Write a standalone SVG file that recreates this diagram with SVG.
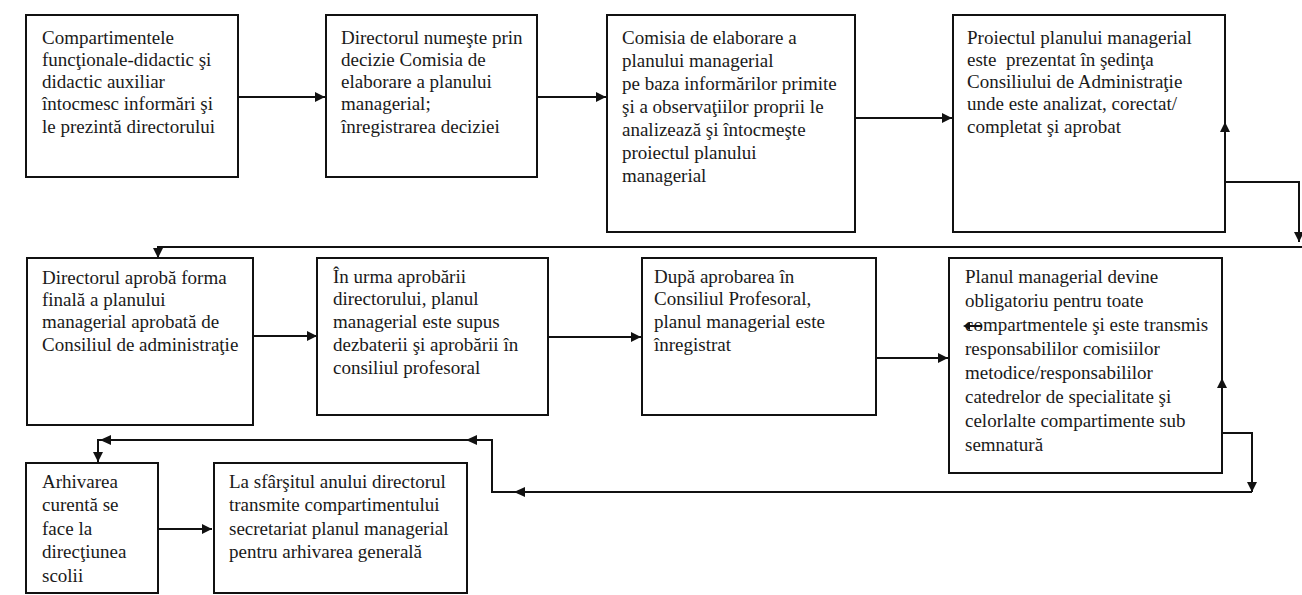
<svg xmlns="http://www.w3.org/2000/svg" width="1302" height="595" viewBox="0 0 1302 595">
<style>
.box{fill:#fff;stroke:#111;stroke-width:2}
.t{font-family:"Liberation Serif","Times New Roman",serif;font-size:19px;fill:#1a1a1a}
.c{fill:none;stroke:#111;stroke-width:2}
.ah{fill:#111}
</style>
<defs>
<marker id="arr" viewBox="0 0 10 10" refX="10" refY="5" markerWidth="11" markerHeight="10" markerUnits="userSpaceOnUse" orient="auto">
<path d="M0,0 L10,5 L0,10 z" fill="#111"/>
</marker>
</defs>
<rect width="1302" height="595" fill="#fff"/>

<g id="n1">
<rect class="box" x="26" y="15" width="212" height="162"/>
<text class="t"><tspan x="42" y="44">Compartimentele</tspan><tspan x="42" y="66">funcţionale-didactic şi</tspan><tspan x="42" y="88">didactic auxiliar</tspan><tspan x="42" y="110">întocmesc informări şi</tspan><tspan x="42" y="133">le prezintă directorului</tspan></text>
</g>
<g id="n2">
<rect class="box" x="326" y="15" width="211" height="162"/>
<text class="t"><tspan x="341" y="44">Directorul numeşte prin</tspan><tspan x="341" y="66">decizie Comisia de</tspan><tspan x="341" y="88">elaborare a planului</tspan><tspan x="341" y="110">managerial;</tspan><tspan x="341" y="133">înregistrarea deciziei</tspan></text>
</g>
<g id="n3">
<rect class="box" x="607" y="15" width="248" height="217"/>
<text class="t"><tspan x="622" y="44">Comisia de elaborare a</tspan><tspan x="622" y="67">planului managerial</tspan><tspan x="622" y="90">pe baza informărilor primite</tspan><tspan x="622" y="113">şi a observaţiilor proprii le</tspan><tspan x="622" y="136">analizează şi întocmeşte</tspan><tspan x="622" y="159">proiectul planului</tspan><tspan x="622" y="182">managerial</tspan></text>
</g>
<g id="n4">
<rect class="box" x="953" y="15" width="272" height="217"/>
<text class="t" xml:space="preserve"><tspan x="967" y="44">Proiectul planului managerial</tspan><tspan x="967" y="66">este  prezentat în şedinţa</tspan><tspan x="967" y="88">Consiliului de Administraţie</tspan><tspan x="967" y="110">unde este analizat, corectat/</tspan><tspan x="967" y="133">completat şi aprobat</tspan></text>
</g>
<g id="n5">
<rect class="box" x="27" y="258" width="226" height="167"/>
<text class="t"><tspan x="42" y="284">Directorul aprobă forma</tspan><tspan x="42" y="306">finală a planului</tspan><tspan x="42" y="328">managerial aprobată de</tspan><tspan x="42" y="351">Consiliul de administraţie</tspan></text>
</g>
<g id="n6">
<rect class="box" x="317" y="258" width="231" height="157"/>
<text class="t"><tspan x="333" y="283">În urma aprobării</tspan><tspan x="333" y="305">directorului, planul</tspan><tspan x="333" y="328">managerial este supus</tspan><tspan x="333" y="351">dezbaterii şi aprobării în</tspan><tspan x="333" y="374">consiliul profesoral</tspan></text>
</g>
<g id="n7">
<rect class="box" x="642" y="258" width="234" height="157"/>
<text class="t"><tspan x="654" y="283">După aprobarea în</tspan><tspan x="654" y="305">Consiliul Profesoral,</tspan><tspan x="654" y="328">planul managerial este</tspan><tspan x="654" y="351">înregistrat</tspan></text>
</g>
<g id="n8">
<rect class="box" x="949" y="258" width="273" height="215"/>
<text class="t"><tspan x="965" y="283">Planul managerial devine</tspan><tspan x="965" y="307">obligatoriu pentru toate</tspan><tspan x="965" y="331">compartmentele şi este transmis</tspan><tspan x="965" y="355">responsabililor comisiilor</tspan><tspan x="965" y="379">metodice/responsabililor</tspan><tspan x="965" y="403">catedrelor de specialitate şi</tspan><tspan x="965" y="427">celorlalte compartimente sub</tspan><tspan x="965" y="451">semnatură</tspan></text>
</g>
<g id="n9">
<rect class="box" x="26" y="463" width="132" height="130"/>
<text class="t"><tspan x="42" y="488">Arhivarea</tspan><tspan x="42" y="511">curentă se</tspan><tspan x="42" y="535">face la</tspan><tspan x="42" y="558">direcţiunea</tspan><tspan x="42" y="582">scolii</tspan></text>
</g>
<g id="n10">
<rect class="box" x="214" y="463" width="253" height="130"/>
<text class="t"><tspan x="229" y="488">La sfârşitul anului directorul</tspan><tspan x="229" y="511">transmite compartimentului</tspan><tspan x="229" y="535">secretariat planul managerial</tspan><tspan x="229" y="558">pentru arhivarea generală</tspan></text>
</g>

<g id="connectors">
<path class="c" d="M238,97 H325" marker-end="url(#arr)"/>
<path class="c" d="M537,97 H606" marker-end="url(#arr)"/>
<path class="c" d="M855,118 H952" marker-end="url(#arr)"/>
<path class="c" d="M1225,182 V122" marker-end="url(#arr)"/>
<path class="c" d="M1225,182 H1299 V242" marker-end="url(#arr)"/>
<path class="c" d="M1302,247 H158 V258" marker-end="url(#arr)"/>
<path class="c" d="M253,336 H317" marker-end="url(#arr)"/>
<path class="c" d="M548,337 H641" marker-end="url(#arr)"/>
<path class="c" d="M876,358 H948" marker-end="url(#arr)"/>
<path class="c" d="M1222,433 V378" marker-end="url(#arr)"/>
<path class="c" d="M1222,433 H1252 V492" marker-end="url(#arr)"/>
<path class="c" d="M1252,492 H492 V440 H98 V462" marker-end="url(#arr)"/>
<polygon class="ah" points="514,492 525,487 525,497"/>
<polygon class="ah" points="466,440 477,435 477,445"/>
<polygon class="ah" points="100,440 111,435 111,445"/>
<path class="c" d="M968,326 H982" stroke-width="1.5"/>
<polygon class="ah" points="963,326 970,322 970,330"/>
<path class="c" d="M158,529 H212" marker-end="url(#arr)"/>
</g>
</svg>
